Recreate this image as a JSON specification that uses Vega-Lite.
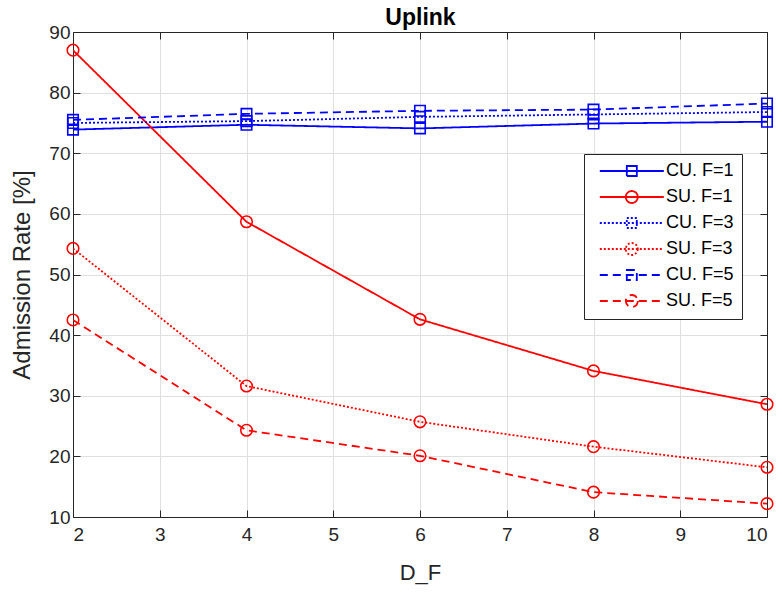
{
  "$schema": "https://vega.github.io/schema/vega-lite/v6.json",
  "width": 694,
  "height": 485,
  "autosize": {"type": "none"},
  "padding": {"left": 73, "top": 32, "right": 15, "bottom": 77},
  "background": "white",
  "config": {
    "view": {"stroke": null},
    "font": "Liberation Sans",
    "axis": {"zindex": 0}
  },
  "data": {"values": [
    {"series": "CU. F=1", "D": 2, "rate": 73.9},
    {"series": "CU. F=1", "D": 4, "rate": 74.7},
    {"series": "CU. F=1", "D": 6, "rate": 74.1},
    {"series": "CU. F=1", "D": 8, "rate": 74.9},
    {"series": "CU. F=1", "D": 10, "rate": 75.2},
    {"series": "SU. F=1", "D": 2, "rate": 87.0},
    {"series": "SU. F=1", "D": 4, "rate": 58.7},
    {"series": "SU. F=1", "D": 6, "rate": 42.6},
    {"series": "SU. F=1", "D": 8, "rate": 34.1},
    {"series": "SU. F=1", "D": 10, "rate": 28.6},
    {"series": "CU. F=3", "D": 2, "rate": 75.0},
    {"series": "CU. F=3", "D": 4, "rate": 75.3},
    {"series": "CU. F=3", "D": 6, "rate": 76.0},
    {"series": "CU. F=3", "D": 8, "rate": 76.4},
    {"series": "CU. F=3", "D": 10, "rate": 76.8},
    {"series": "SU. F=3", "D": 2, "rate": 54.3},
    {"series": "SU. F=3", "D": 4, "rate": 31.6},
    {"series": "SU. F=3", "D": 6, "rate": 25.7},
    {"series": "SU. F=3", "D": 8, "rate": 21.6},
    {"series": "SU. F=3", "D": 10, "rate": 18.2},
    {"series": "CU. F=5", "D": 2, "rate": 75.5},
    {"series": "CU. F=5", "D": 4, "rate": 76.5},
    {"series": "CU. F=5", "D": 6, "rate": 77.0},
    {"series": "CU. F=5", "D": 8, "rate": 77.2},
    {"series": "CU. F=5", "D": 10, "rate": 78.2},
    {"series": "SU. F=5", "D": 2, "rate": 42.5},
    {"series": "SU. F=5", "D": 4, "rate": 24.3},
    {"series": "SU. F=5", "D": 6, "rate": 20.1},
    {"series": "SU. F=5", "D": 8, "rate": 14.1},
    {"series": "SU. F=5", "D": 10, "rate": 12.2}
  ]},
  "layer": [
    {
      "mark": {"type": "line", "strokeWidth": 1.8, "clip": true},
      "encoding": {
        "x": {"field": "D", "type": "quantitative",
          "scale": {"domain": [2, 10], "nice": false, "zero": false},
          "axis": {"orient": "bottom", "values": [2,3,4,5,6,7,8,9,10], "format": "d",
            "grid": true, "gridColor": "#dfdfdf", "gridWidth": 1,
            "domainColor": "#262626", "domainWidth": 1, "tickColor": "#262626", "tickSize": -7, "tickWidth": 1,
            "labelFontSize": 19, "labelColor": "#262626", "labelPadding": 15, "labelFont": "Liberation Sans",
            "title": "D_F", "titleFontSize": 22, "titleFontWeight": "normal", "titleColor": "#262626", "titlePadding": 18, "titleFont": "Liberation Sans"}},
        "y": {"field": "rate", "type": "quantitative",
          "scale": {"domain": [10, 90], "nice": false, "zero": false},
          "axis": {"orient": "left", "values": [10,20,30,40,50,60,70,80,90], "format": "d",
            "grid": true, "gridColor": "#dfdfdf", "gridWidth": 1,
            "domainColor": "#262626", "domainWidth": 1, "tickColor": "#262626", "tickSize": -7, "tickWidth": 1,
            "labelFontSize": 19, "labelColor": "#262626", "labelPadding": 10, "labelFont": "Liberation Sans",
            "title": "Admission Rate [%]", "titleFontSize": 24, "titleFontWeight": "normal", "titleColor": "#262626", "titlePadding": 14, "titleFont": "Liberation Sans"}},
        "color": {"field": "series", "type": "nominal",
          "scale": {"domain": ["CU. F=1", "SU. F=1", "CU. F=3", "SU. F=3", "CU. F=5", "SU. F=5"],
                    "range": ["#0000ff", "#ff0000", "#0000ff", "#ff0000", "#0000ff", "#ff0000"]},
          "legend": {"title": null, "orient": "none", "legendX": 511, "legendY": 122,
            "padding": 8, "rowPadding": 7, "fillColor": "white", "strokeColor": "#262626",
            "labelFontSize": 18, "labelFont": "Liberation Sans", "labelColor": "#000000", "labelOffset": 56,
            "symbolSize": 144, "symbolStrokeWidth": 1.8, "symbolFillColor": "transparent",
            "encode": {"symbols": {"update": {
              "shape": {"signal": "indexof(datum.value, 'CU') === 0 ? 'M-0.2,0H10.47M4.3,-0.83H5.97V0.83H4.3Z' : 'M-0.2,0H10.47M6.13,0A1,1,0,1,1,4.13,0A1,1,0,1,1,6.13,0Z'"},
              "fill": {"value": "transparent"},
              "strokeWidth": {"value": 1.8}
            }}}}},
        "strokeDash": {"field": "series", "type": "nominal",
          "scale": {"domain": ["CU. F=1", "SU. F=1", "CU. F=3", "SU. F=3", "CU. F=5", "SU. F=5"],
                    "range": [[1, 0], [1, 0], [2, 2], [2, 2], [8, 5], [8, 5]]},
          "legend": {"title": null, "orient": "none", "legendX": 511, "legendY": 122}},
        "detail": {"field": "series"}
      }
    },
    {
      "transform": [{"filter": "indexof(datum.series, 'CU') === 0"}],
      "mark": {"type": "point", "shape": "square", "filled": false, "size": 110, "strokeWidth": 1.6, "opacity": 1},
      "encoding": {
        "x": {"field": "D", "type": "quantitative",
          "axis": {"orient": "top", "values": [2,3,4,5,6,7,8,9,10], "labels": false, "grid": false,
            "domainColor": "#262626", "domainWidth": 1, "tickColor": "#262626", "tickSize": -7, "tickWidth": 1,
            "title": "Uplink", "titleFontSize": 23, "titleFontWeight": "bold", "titleColor": "#000000", "titleFont": "Liberation Sans", "titlePadding": 2, "titleBaseline": "bottom"}},
        "y": {"field": "rate", "type": "quantitative",
          "axis": {"orient": "right", "values": [10,20,30,40,50,60,70,80,90], "labels": false, "title": null, "grid": false,
            "domainColor": "#262626", "domainWidth": 1, "tickColor": "#262626", "tickSize": -7, "tickWidth": 1}},
        "color": {"field": "series", "type": "nominal"}
      }
    },
    {
      "transform": [{"filter": "indexof(datum.series, 'SU') === 0"}],
      "mark": {"type": "point", "shape": "circle", "filled": false, "size": 133, "strokeWidth": 1.6, "opacity": 1},
      "encoding": {
        "x": {"field": "D", "type": "quantitative", "axis": null},
        "y": {"field": "rate", "type": "quantitative", "axis": null},
        "color": {"field": "series", "type": "nominal"}
      }
    }
  ],
  "resolve": {"axis": {"x": "independent", "y": "independent"}}
}
